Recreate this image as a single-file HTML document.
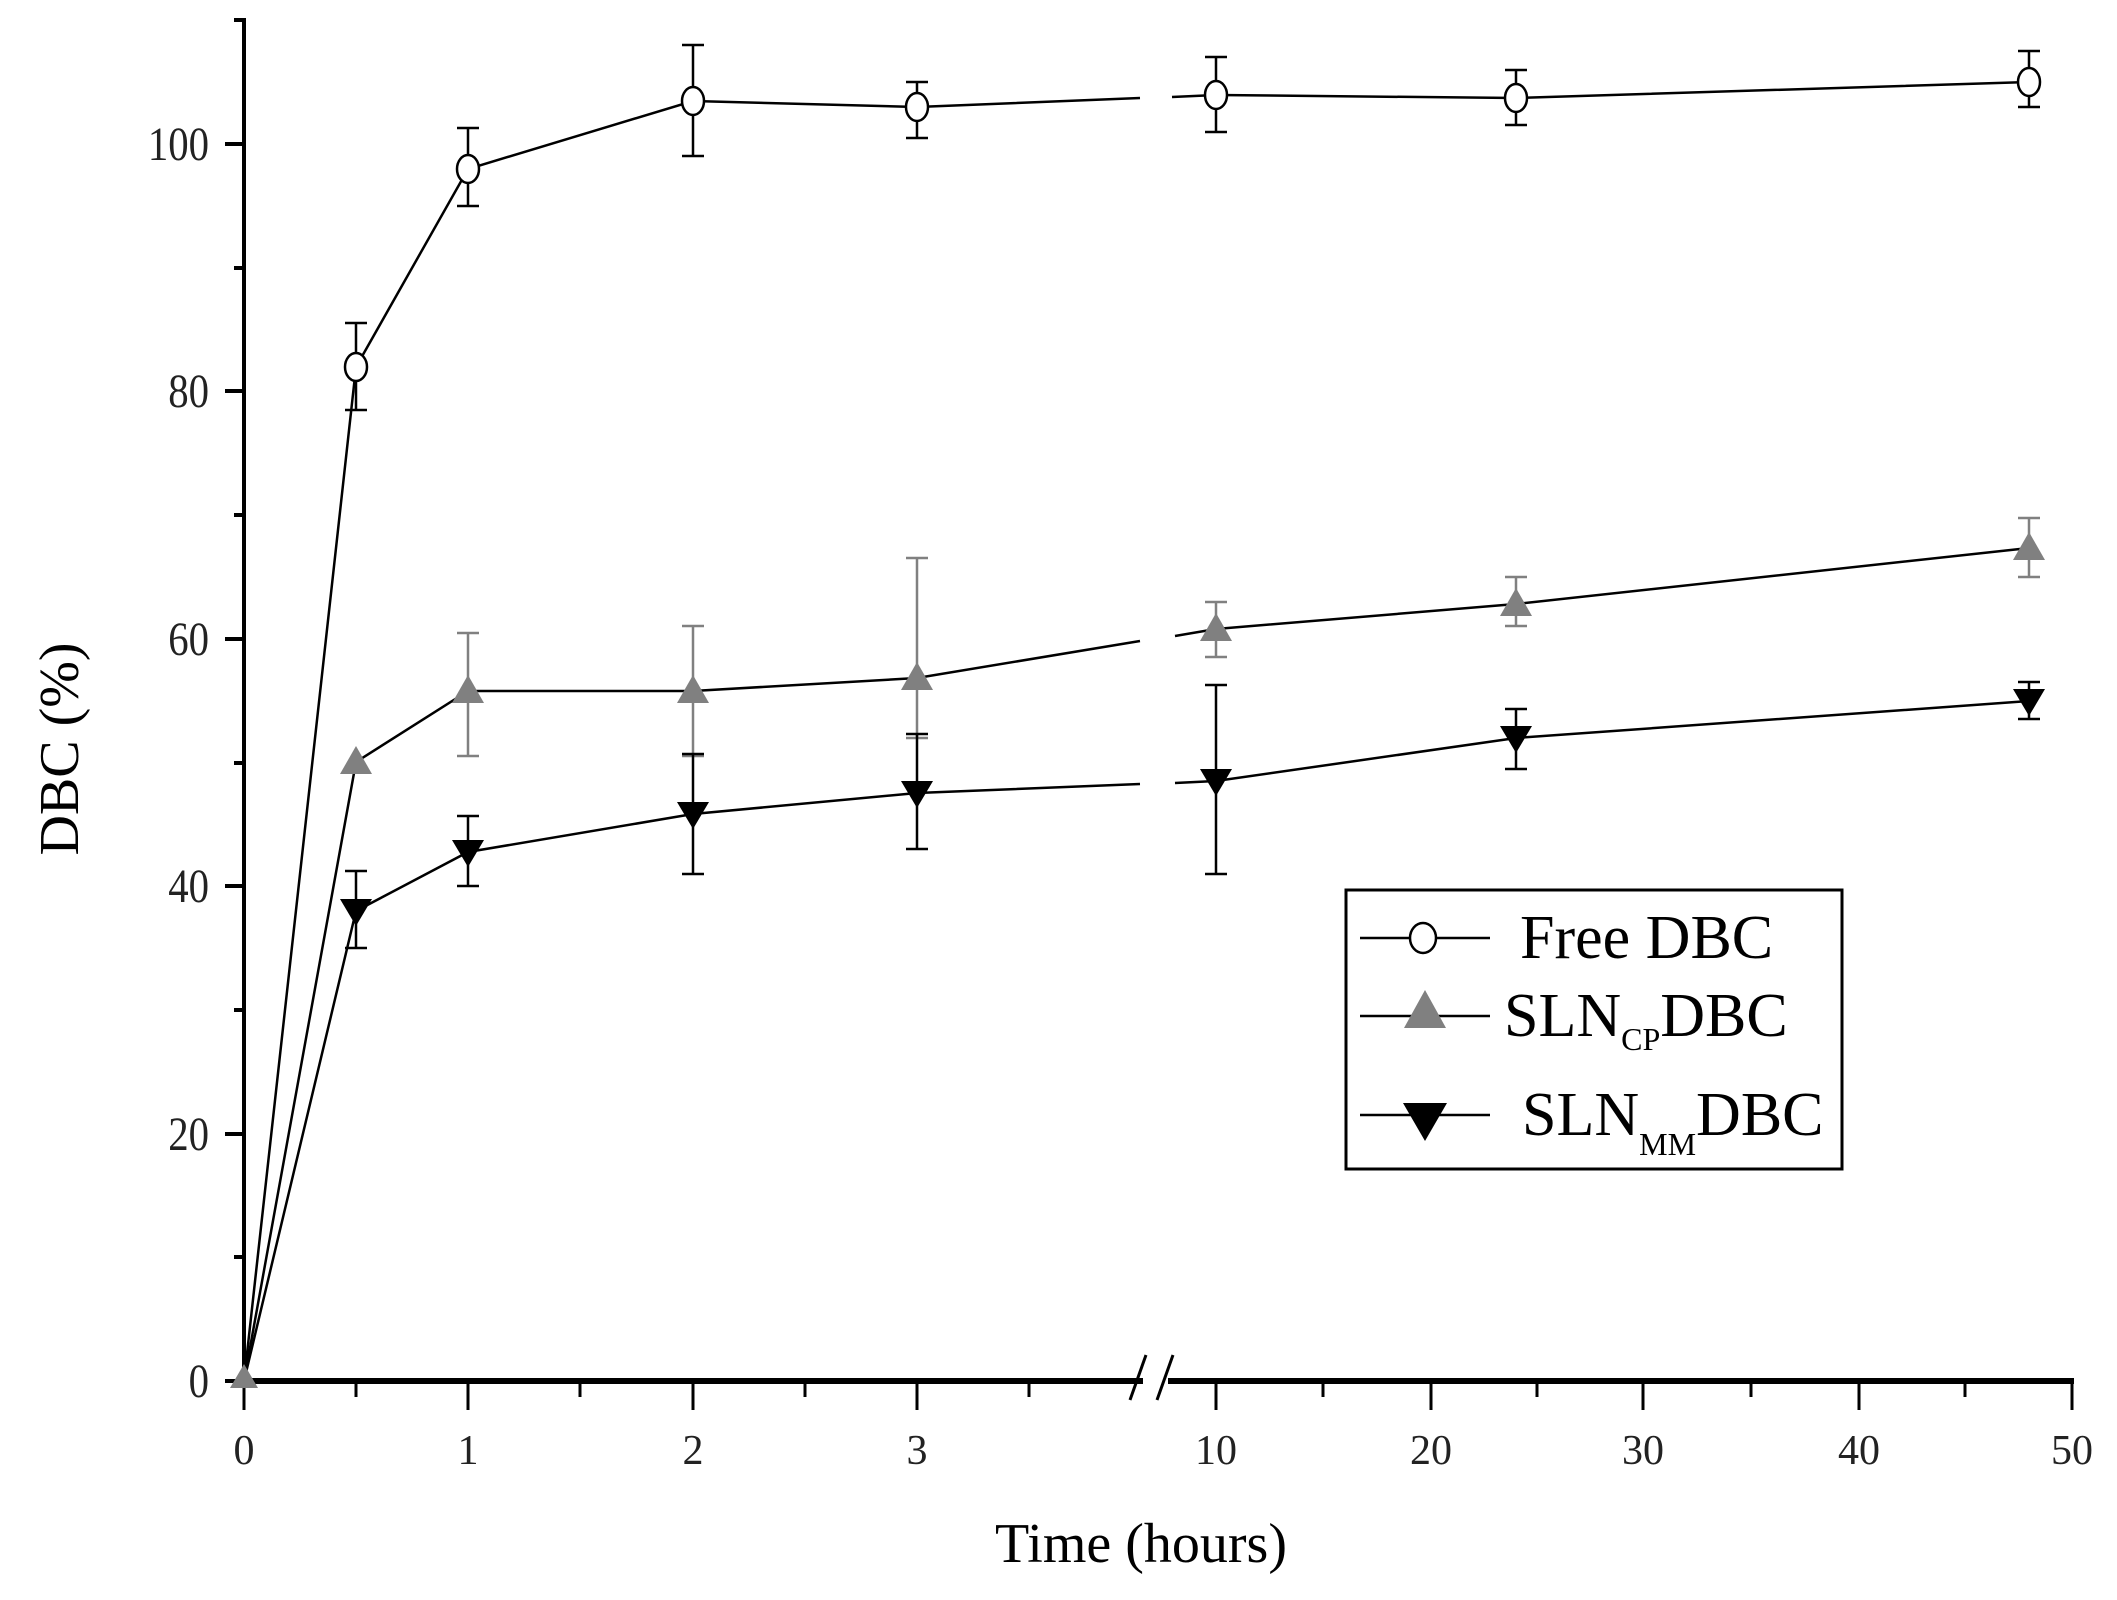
<!DOCTYPE html>
<html><head><meta charset="utf-8"><style>
html,body{margin:0;padding:0;background:#fff;}
svg{display:block;}
text{font-family:"Liberation Serif",serif;}
</style></head><body>
<svg width="2117" height="1600" viewBox="0 0 2117 1600" xmlns="http://www.w3.org/2000/svg">
<line x1="244" y1="18" x2="244" y2="1384" stroke="#000" stroke-width="4"/>
<line x1="242" y1="1381" x2="1143" y2="1381" stroke="#000" stroke-width="6"/>
<line x1="1168" y1="1381" x2="2074" y2="1381" stroke="#000" stroke-width="6"/>
<line x1="1130" y1="1400" x2="1146" y2="1355" stroke="#000" stroke-width="3"/>
<line x1="1157" y1="1400" x2="1173" y2="1355" stroke="#000" stroke-width="3"/>
<g stroke="#000" stroke-width="4">
<line x1="225" y1="1381" x2="244" y2="1381"/><line x1="225" y1="1134" x2="244" y2="1134"/>
<line x1="225" y1="886" x2="244" y2="886"/><line x1="225" y1="639" x2="244" y2="639"/>
<line x1="225" y1="391" x2="244" y2="391"/><line x1="225" y1="144" x2="244" y2="144"/>
<line x1="234" y1="1257" x2="244" y2="1257"/><line x1="234" y1="1010" x2="244" y2="1010"/>
<line x1="234" y1="763" x2="244" y2="763"/><line x1="234" y1="515" x2="244" y2="515"/>
<line x1="234" y1="268" x2="244" y2="268"/><line x1="234" y1="20" x2="244" y2="20"/>
</g>
<g stroke="#000" stroke-width="3">
<line x1="244" y1="1381" x2="244" y2="1410"/><line x1="468" y1="1381" x2="468" y2="1410"/>
<line x1="693" y1="1381" x2="693" y2="1410"/><line x1="917" y1="1381" x2="917" y2="1410"/>
<line x1="1216" y1="1381" x2="1216" y2="1410"/><line x1="1431" y1="1381" x2="1431" y2="1410"/>
<line x1="1643" y1="1381" x2="1643" y2="1410"/><line x1="1859" y1="1381" x2="1859" y2="1410"/>
<line x1="2072" y1="1381" x2="2072" y2="1410"/>
<line x1="356" y1="1381" x2="356" y2="1397"/><line x1="580" y1="1381" x2="580" y2="1397"/>
<line x1="805" y1="1381" x2="805" y2="1397"/><line x1="1029" y1="1381" x2="1029" y2="1397"/>
<line x1="1323" y1="1381" x2="1323" y2="1397"/><line x1="1537" y1="1381" x2="1537" y2="1397"/>
<line x1="1751" y1="1381" x2="1751" y2="1397"/><line x1="1965" y1="1381" x2="1965" y2="1397"/>
</g>
<g font-size="48" text-anchor="end" fill="#222">
<text x="209" y="1397" transform="translate(209 0) scale(0.85 1) translate(-209 0)">0</text>
<text x="209" y="1150" transform="translate(209 0) scale(0.85 1) translate(-209 0)">20</text>
<text x="209" y="902" transform="translate(209 0) scale(0.85 1) translate(-209 0)">40</text>
<text x="209" y="655" transform="translate(209 0) scale(0.85 1) translate(-209 0)">60</text>
<text x="209" y="407" transform="translate(209 0) scale(0.85 1) translate(-209 0)">80</text>
<text x="209" y="160" transform="translate(209 0) scale(0.85 1) translate(-209 0)">100</text>
</g>
<g font-size="42" text-anchor="middle" fill="#222">
<text x="244" y="1464">0</text><text x="468" y="1464">1</text><text x="693" y="1464">2</text>
<text x="917" y="1464">3</text><text x="1216" y="1464">10</text><text x="1431" y="1464">20</text>
<text x="1643" y="1464">30</text><text x="1859" y="1464">40</text><text x="2072" y="1464">50</text>
</g>
<text x="1141" y="1562" font-size="56" text-anchor="middle">Time (hours)</text>
<text transform="translate(78 749) rotate(-90)" font-size="56" text-anchor="middle">DBC (%)</text>

<g stroke="#000" stroke-width="2.5" fill="none">
<polyline points="244,1381 356,367 468,169 693,101 917,107 1140,98"/>
<polyline points="1172,97 1216,95 1516,98 2029,82"/>
<path d="M356,410V323M345,410H367M345,323H367 M468,206V128M457,206H479M457,128H479 M693,156V45M682,156H704M682,45H704 M917,138V82M906,138H928M906,82H928 M1216,132V57M1205,132H1227M1205,57H1227 M1516,125V70M1505,125H1527M1505,70H1527 M2029,107V51M2018,107H2040M2018,51H2040"/>
</g>
<g stroke="#000" stroke-width="2.5" fill="none">
<polyline points="244,1381 356,762 468,691 693,691 917,678 1140,641"/>
<polyline points="1175,636 1216,629 1516,604 2029,548"/>
<polyline points="244,1381 356,911 468,852 693,814 917,793 1140,784"/>
<polyline points="1175,783 1216,781 1516,738 2029,701"/>
</g>
<g stroke="#808080" stroke-width="2.5" fill="none">
<path d="M468,633V756M457,633H479M457,756H479 M693,626V756M682,626H704M682,756H704 M917,558V738M906,558H928M906,738H928 M1216,602V657M1205,602H1227M1205,657H1227 M1516,577V626M1505,577H1527M1505,626H1527 M2029,518V577M2018,518H2040M2018,577H2040"/>
</g>
<g stroke="#000" stroke-width="2.5" fill="none">
<path d="M356,948V871M345,948H367M345,871H367 M468,886V816M457,886H479M457,816H479 M693,874V754M682,874H704M682,754H704 M917,849V734M906,849H928M906,734H928 M1216,874V685M1205,874H1227M1205,685H1227 M1516,769V709M1505,769H1527M1505,709H1527 M2029,719V682M2018,719H2040M2018,682H2040"/>
</g>
<g fill="#808080">
<polygon points="244,1364 258,1388 230,1388"/>
<polygon points="356,746 372,774 340,774"/>
<polygon points="468,675 484,703 452,703"/>
<polygon points="693,675 709,703 677,703"/>
<polygon points="917,662 933,690 901,690"/>
<polygon points="1216,613 1232,641 1200,641"/>
<polygon points="1516,588 1532,616 1500,616"/>
<polygon points="2029,532 2045,560 2013,560"/>
</g>
<g fill="#000">
<polygon points="340,899 372,899 356,926"/>
<polygon points="452,840 484,840 468,867"/>
<polygon points="677,802 709,802 693,829"/>
<polygon points="901,781 933,781 917,808"/>
<polygon points="1200,769 1232,769 1216,796"/>
<polygon points="1500,726 1532,726 1516,753"/>
<polygon points="2013,689 2045,689 2029,716"/>
</g>
<g fill="#fff" stroke="#000" stroke-width="2.5">
<ellipse cx="356" cy="367" rx="11" ry="14"/>
<ellipse cx="468" cy="169" rx="11" ry="14"/>
<ellipse cx="693" cy="101" rx="11" ry="14"/>
<ellipse cx="917" cy="107" rx="11" ry="14"/>
<ellipse cx="1216" cy="95" rx="11" ry="14"/>
<ellipse cx="1516" cy="98" rx="11" ry="14"/>
<ellipse cx="2029" cy="82" rx="11" ry="14"/>
</g>

<rect x="1346" y="890" width="496" height="279" fill="#fff" stroke="#000" stroke-width="3"/>
<g stroke="#000" stroke-width="2.5">
<line x1="1360" y1="938" x2="1490" y2="938"/>
<line x1="1360" y1="1016" x2="1490" y2="1016"/>
<line x1="1360" y1="1115" x2="1490" y2="1115"/>
</g>
<ellipse cx="1423" cy="938" rx="13" ry="15" fill="#fff" stroke="#000" stroke-width="2.5"/>
<polygon points="1425,990 1446,1028 1404,1028" fill="#808080"/>
<polygon points="1403,1103 1447,1103 1425,1141" fill="#000"/>
<g font-size="62" fill="#000">
<text x="1520" y="958">Free DBC</text>
<text x="1504" y="1036">SLN<tspan font-size="32" dy="14">CP</tspan><tspan dy="-14">DBC</tspan></text>
<text x="1522" y="1135">SLN<tspan font-size="32" dy="20">MM</tspan><tspan dy="-20">DBC</tspan></text>
</g>
</svg>
</body></html>
